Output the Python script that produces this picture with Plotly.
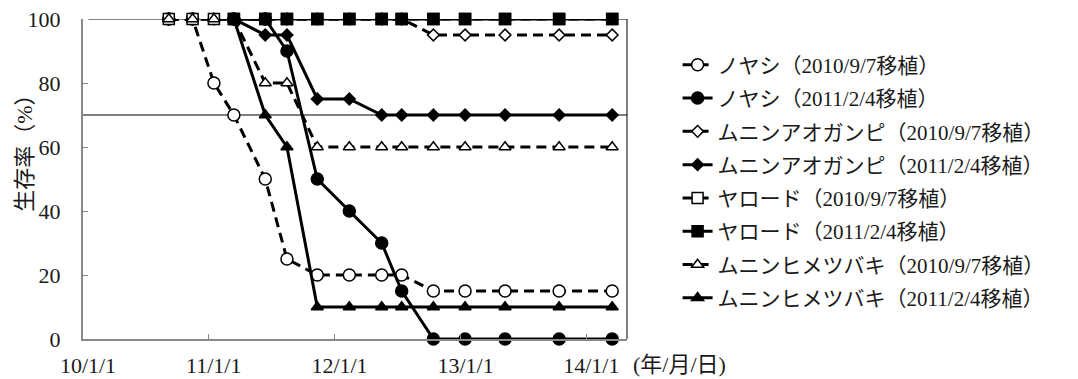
import plotly.graph_objects as go

# ---- data ----
dates = ["2010-09-07", "2010-11-15", "2011-01-16", "2011-03-15", "2011-06-14",
         "2011-08-16", "2011-11-12", "2012-02-13", "2012-05-17", "2012-07-14",
         "2012-10-14", "2013-01-14", "2013-05-10", "2013-10-14", "2014-03-17"]
dates_2010 = dates
dates_2011 = dates[3:]

noyashi_2010 = [100, 100, 80, 70, 50, 25, 20, 20, 20, 20, 15, 15, 15, 15, 15]
noyashi_2011 = [100, 100, 90, 50, 40, 30, 15, 0, 0, 0, 0, 0]
aoganpi_2010 = [100, 100, 100, 100, 100, 100, 100, 100, 100, 100, 95, 95, 95, 95, 95]
aoganpi_2011 = [100, 95, 95, 75, 75, 70, 70, 70, 70, 70, 70, 70]
yarodo_2010 = [100, 100, 100, 100, 100, 100, 100, 100, 100, 100, 100, 100, 100, 100, 100]
yarodo_2011 = [100, 100, 100, 100, 100, 100, 100, 100, 100, 100, 100, 100]
himetsubaki_2010 = [100, 100, 100, 100, 80, 80, 60, 60, 60, 60, 60, 60, 60, 60, 60]
himetsubaki_2011 = [100, 70, 60, 10, 10, 10, 10, 10, 10, 10, 10, 10]

names = ["ノヤシ（2010/9/7移植）", "ノヤシ（2011/2/4移植）",
         "ムニンアオガンピ（2010/9/7移植）", "ムニンアオガンピ（2011/2/4移植）",
         "ヤロード（2010/9/7移植）", "ヤロード（2011/2/4移植）",
         "ムニンヒメツバキ（2010/9/7移植）", "ムニンヒメツバキ（2011/2/4移植）"]

tick_vals = ["2010-01-01", "2011-01-01", "2012-01-01", "2013-01-01", "2014-01-01"]
tick_text = ["10/1/1", "11/1/1", "12/1/1", "13/1/1", "14/1/1"]
y_ticks = [0, 20, 40, 60, 80, 100]

FONT = '"Liberation Serif", "Noto Sans CJK JP", serif'
TXT = "#1a1a1a"

series = [
    (dates_2010, noyashi_2010, "circle", 12),
    (dates_2011, noyashi_2011, "circle", 12),
    (dates_2010, aoganpi_2010, "diamond", 9),
    (dates_2011, aoganpi_2011, "diamond", 9),
    (dates_2010, yarodo_2010, "square", 11),
    (dates_2011, yarodo_2011, "square", 11),
    (dates_2010, himetsubaki_2010, "triangle-up", 10.5),
    (dates_2011, himetsubaki_2011, "triangle-up", 10.5),
]

fig = go.Figure()
for i, (xs, ys, sym, sz) in enumerate(series):
    dashed = (i % 2 == 0)
    fig.add_trace(go.Scatter(
        x=xs, y=ys, mode="lines+markers", name=names[i],
        legendgroup=str(i),
        line=dict(color="black", width=3, dash="10px,6px" if dashed else "solid"),
        marker=dict(symbol=sym, size=sz,
                    color="white" if dashed else "black",
                    line=dict(color="black", width=1.5)),
        cliponaxis=False,
    ))

# reference lines / frame
fig.add_shape(type="line", xref="paper", yref="y", x0=0, x1=1, y0=70, y1=70,
              line=dict(color="black", width=1), layer="below")
fig.add_shape(type="line", xref="paper", yref="y", x0=0.01, x1=1, y0=100, y1=100,
              line=dict(color="black", width=1), layer="below")
fig.add_shape(type="line", xref="paper", yref="y", x0=1, x1=1, y0=0, y1=100,
              line=dict(color="black", width=1), layer="below")

fig.add_annotation(text="生存率（%）", xref="paper", yref="paper",
                   x=-0.107, y=0.597, xanchor="center", yanchor="middle",
                   textangle=-90, showarrow=False,
                   font=dict(family=FONT, size=22, color=TXT))
fig.add_annotation(text="(年/月/日)", xref="paper", yref="paper",
                   x=1.008, y=-0.08, xanchor="left", yanchor="middle", showarrow=False,
                   font=dict(family=FONT, size=22, color=TXT))

# the page body adds an 8px offset; figure is sized so the plot lands at 83..627 x 19..339
fig.update_layout(
    width=1070, height=371,
    margin=dict(l=75, r=451, t=11, b=40, autoexpand=False),
    paper_bgcolor="white", plot_bgcolor="white",
    font=dict(family=FONT, size=21, color=TXT),
    showlegend=True,
    legend=dict(x=1.093, y=0.92, xanchor="left", yanchor="top",
                font=dict(family=FONT, size=21, color=TXT),
                tracegroupgap=3, itemwidth=30, bgcolor="rgba(0,0,0,0)"),
    xaxis=dict(type="date", range=["2010-01-01", "2014-04-29"],
               tickvals=tick_vals, ticktext=tick_text,
               ticks="inside", ticklen=5, tickcolor="#888888", tickwidth=1,
               showline=True, linecolor="#888888", linewidth=2,
               showgrid=False, zeroline=False, automargin=False,
               ticklabelshift=5, ticklabelstandoff=6, ticklabeloverflow="allow",
               tickfont=dict(family=FONT, size=22, color=TXT)),
    yaxis=dict(range=[0, 100], tickvals=y_ticks,
               ticks="inside", ticklen=5, tickcolor="#888888", tickwidth=1,
               showline=True, linecolor="#888888", linewidth=2,
               showgrid=False, zeroline=False, automargin=False,
               ticklabelstandoff=16, ticklabeloverflow="allow",
               tickfont=dict(family=FONT, size=22, color=TXT)),
)

fig.write_html("out.html")
